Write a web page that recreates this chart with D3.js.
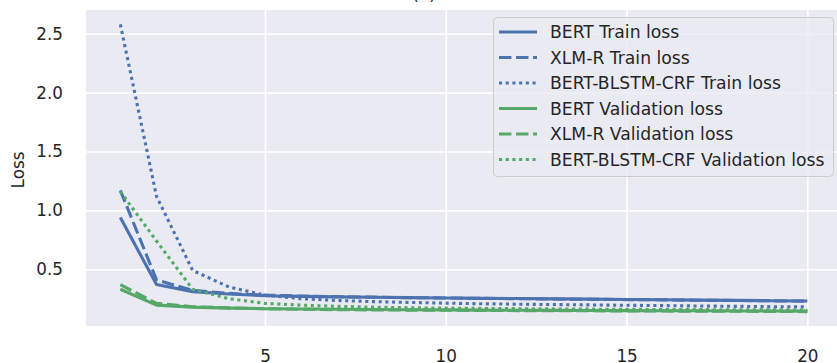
<!DOCTYPE html>
<html>
<head>
<meta charset="utf-8">
<script src="https://cdn.jsdelivr.net/npm/d3@7/dist/d3.min.js"></script>
<style>
  html, body { margin: 0; padding: 0; background: #ffffff; }
  svg { display: block; font-family: "DejaVu Sans", sans-serif; }
</style>
</head>
<body>
<svg id="chart" width="837" height="363"></svg>
<script>
// Epochs and per-epoch loss curves
const epochs = d3.range(1, 21);

const bertTrain     = [0.94, 0.37, 0.31, 0.29, 0.275, 0.27, 0.265, 0.262, 0.259, 0.256, 0.253, 0.251, 0.248, 0.246, 0.243, 0.241, 0.238, 0.236, 0.233, 0.23];
const xlmrTrain     = [1.17, 0.41, 0.32, 0.295, 0.28, 0.272, 0.267, 0.263, 0.259, 0.256, 0.253, 0.25, 0.247, 0.245, 0.242, 0.24, 0.237, 0.235, 0.232, 0.229];
const blstmTrain    = [2.58, 1.12, 0.49, 0.35, 0.28, 0.25, 0.235, 0.225, 0.218, 0.212, 0.207, 0.203, 0.2, 0.197, 0.194, 0.191, 0.188, 0.185, 0.182, 0.18];
const bertVal       = [0.33, 0.195, 0.178, 0.17, 0.165, 0.162, 0.16, 0.158, 0.156, 0.155, 0.153, 0.152, 0.151, 0.15, 0.149, 0.148, 0.147, 0.146, 0.145, 0.144];
const xlmrVal       = [0.37, 0.21, 0.182, 0.172, 0.165, 0.16, 0.157, 0.155, 0.153, 0.152, 0.15, 0.149, 0.148, 0.147, 0.146, 0.145, 0.144, 0.143, 0.142, 0.14];
const blstmVal      = [1.16, 0.74, 0.33, 0.25, 0.21, 0.195, 0.185, 0.178, 0.173, 0.17, 0.167, 0.165, 0.163, 0.161, 0.16, 0.158, 0.157, 0.156, 0.155, 0.154];

const seriesNames = ["BERT Train loss", "XLM-R Train loss", "BERT-BLSTM-CRF Train loss",
                     "BERT Validation loss", "XLM-R Validation loss", "BERT-BLSTM-CRF Validation loss"];
const seriesValues = [bertTrain, xlmrTrain, blstmTrain, bertVal, xlmrVal, blstmVal];

const xTicks = [5, 10, 15, 20];
const yTicks = [0.5, 1.0, 1.5, 2.0, 2.5];
const yLabel = "Loss";
const title = "(a)";

// Styling
const BLUE = "#4C72B0", GREEN = "#55A868";
const LW = 3.1;
const styles = [
  { color: BLUE,  dash: null },
  { color: BLUE,  dash: [4 * LW, 1.5 * LW] },
  { color: BLUE,  dash: [LW, 3.6] },
  { color: GREEN, dash: null },
  { color: GREEN, dash: [4 * LW, 1.5 * LW] },
  { color: GREEN, dash: [LW, 3.6] }
];
const TEXT = "#262626";
const FS = 16.8;
const LEGEND_FS = 17.2;

const svg = d3.select("#chart");
const plot = { left: 86, top: 10, right: 841.7, bottom: 326 };

// Domains padded by 5% like the usual autoscale margins
const allVals = seriesValues.flat();
const yMin = d3.min(allVals), yMax = d3.max(allVals);
const yPad = (yMax - yMin) * 0.05;
const xPad = (d3.max(epochs) - d3.min(epochs)) * 0.05;

const x = d3.scaleLinear()
  .domain([d3.min(epochs) - xPad, d3.max(epochs) + xPad])
  .range([plot.left, plot.right]);
const y = d3.scaleLinear()
  .domain([yMin - yPad, yMax + yPad])
  .range([plot.bottom, plot.top]);

// Clip to the axes area
svg.append("defs").append("clipPath").attr("id", "plotclip")
  .append("rect")
  .attr("x", plot.left).attr("y", plot.top)
  .attr("width", plot.right - plot.left).attr("height", plot.bottom - plot.top);

// Axes background
svg.append("rect")
  .attr("x", plot.left).attr("y", plot.top)
  .attr("width", plot.right - plot.left).attr("height", plot.bottom - plot.top)
  .attr("fill", "#EAEAF2");

// Gridlines via axes with full-length ticks
const gx = svg.append("g")
  .attr("transform", `translate(0,${plot.bottom})`)
  .call(d3.axisBottom(x).tickValues(xTicks).tickSize(-(plot.bottom - plot.top)).tickFormat(d3.format("d")));
const gy = svg.append("g")
  .attr("transform", `translate(${plot.left},0)`)
  .call(d3.axisLeft(y).tickValues(yTicks).tickSize(-(plot.right - plot.left)).tickFormat(d3.format(".1f")).tickPadding(23));

[gx, gy].forEach(g => {
  g.select(".domain").remove();
  g.selectAll(".tick line").attr("stroke", "#ffffff").attr("stroke-width", 1.6);
  g.selectAll(".tick text")
    .attr("fill", TEXT)
    .style("font-family", "'DejaVu Sans', sans-serif")
    .style("font-size", FS + "px");
});
gx.selectAll(".tick text").attr("dy", null).attr("y", 35.5);

// Loss curves
const line = d3.line()
  .x((d, i) => x(epochs[i]))
  .y(d => y(d));

const lines = svg.append("g").attr("clip-path", "url(#plotclip)");
seriesValues.forEach((vals, i) => {
  lines.append("path")
    .datum(vals)
    .attr("d", line)
    .attr("fill", "none")
    .attr("stroke", styles[i].color)
    .attr("stroke-width", LW)
    .attr("stroke-linejoin", "round")
    .attr("stroke-linecap", "butt")
    .attr("stroke-dasharray", styles[i].dash ? styles[i].dash.join(",") : null);
});

// Axis label
svg.append("text")
  .attr("transform", `translate(24,${(plot.top + plot.bottom) / 2 + 2}) rotate(-90)`)
  .attr("text-anchor", "middle")
  .attr("fill", TEXT)
  .style("font-size", FS + "px")
  .text(yLabel);

// Title, mostly above the top edge
svg.append("text")
  .attr("x", 424).attr("y", 0)
  .attr("text-anchor", "middle")
  .attr("fill", TEXT)
  .style("font-size", FS + "px")
  .text(title);

// Legend
const lg = { x: 493, y: 17, w: 340, h: 159, firstRow: 32, step: 25.5 };
svg.append("rect")
  .attr("x", lg.x + 0.5).attr("y", lg.y + 0.5)
  .attr("width", lg.w).attr("height", lg.h)
  .attr("rx", 4).attr("ry", 4)
  .attr("fill", "rgba(234,234,242,0.8)")
  .attr("stroke", "#cccccc")
  .attr("stroke-width", 1);

const items = svg.append("g").selectAll("g")
  .data(seriesNames)
  .join("g")
  .attr("transform", (d, i) => `translate(0,${lg.firstRow + i * lg.step})`);

items.append("line")
  .attr("x1", 499).attr("x2", 537)
  .attr("y1", 0).attr("y2", 0)
  .attr("stroke", (d, i) => styles[i].color)
  .attr("stroke-width", LW)
  .attr("stroke-linecap", "butt")
  .attr("stroke-dasharray", (d, i) => styles[i].dash ? styles[i].dash.join(",") : null);

items.append("text")
  .attr("x", 550).attr("y", 0)
  .attr("dy", "0.35em")
  .attr("fill", TEXT)
  .style("font-size", LEGEND_FS + "px")
  .text(d => d);
</script>
</body>
</html>
